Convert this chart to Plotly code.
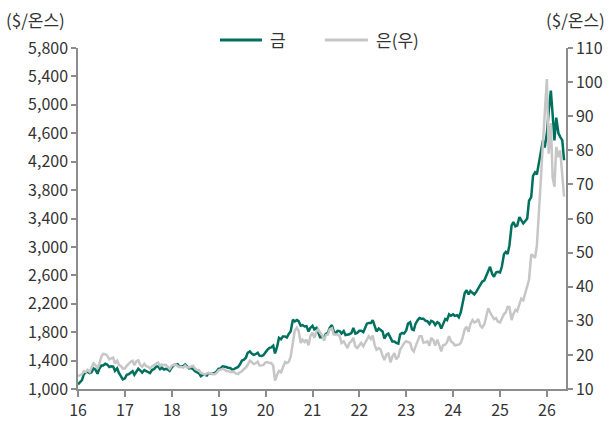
import pandas as pd
import plotly.graph_objects as go

# Semi-monthly observation dates (1st and 15th), Jan 2016 - May 2026
dates = pd.date_range("2016-01-01", "2026-05-15", freq="SMS")

gold_2016 = [1065, 1090, 1125, 1205, 1235, 1245, 1225, 1235, 1290, 1275, 1215, 1285,
             1330, 1330, 1355, 1345, 1310, 1320, 1315, 1255, 1290, 1225, 1170, 1135]
gold_2017 = [1150, 1200, 1210, 1235, 1250, 1200, 1250, 1285, 1260, 1230, 1265, 1255,
             1240, 1225, 1270, 1280, 1315, 1320, 1280, 1300, 1275, 1285, 1275, 1255]
gold_2018 = [1305, 1335, 1345, 1350, 1315, 1320, 1325, 1345, 1310, 1290, 1295, 1280,
             1250, 1235, 1220, 1180, 1200, 1200, 1190, 1225, 1215, 1215, 1225, 1245]
gold_2019 = [1285, 1290, 1320, 1320, 1310, 1300, 1295, 1275, 1280, 1295, 1310, 1345,
             1400, 1410, 1440, 1510, 1530, 1500, 1480, 1490, 1510, 1470, 1465, 1475]
gold_2020 = [1520, 1550, 1580, 1585, 1610, 1500, 1600, 1720, 1700, 1740, 1740, 1725,
             1780, 1810, 1975, 1950, 1970, 1955, 1890, 1900, 1880, 1885, 1810, 1860]
gold_2021 = [1890, 1840, 1860, 1790, 1730, 1730, 1730, 1775, 1790, 1860, 1900, 1810,
             1780, 1820, 1815, 1780, 1815, 1760, 1760, 1770, 1790, 1860, 1780, 1790]
gold_2022 = [1820, 1820, 1800, 1860, 1920, 1930, 1930, 1970, 1870, 1810, 1850, 1830,
             1810, 1710, 1765, 1780, 1710, 1670, 1670, 1650, 1640, 1770, 1790, 1780]
gold_2023 = [1825, 1920, 1940, 1840, 1830, 1920, 1970, 2000, 1990, 1990, 1960, 1955,
             1915, 1960, 1945, 1900, 1940, 1925, 1850, 1920, 1985, 1970, 2050, 2030]
gold_2024 = [2050, 2030, 2040, 2010, 2080, 2200, 2350, 2390, 2330, 2380, 2350, 2330,
             2370, 2420, 2480, 2510, 2530, 2600, 2680, 2720, 2620, 2580, 2640, 2650]
gold_2025 = [2640, 2720, 2900, 2930, 2900, 3020, 3300, 3350, 3290, 3300, 3420, 3380,
             3330, 3360, 3400, 3650, 3700, 4000, 4050, 4020, 4200, 4380, 4500, 4400]
gold_2026 = [4600, 4900, 5200, 4860, 4500, 4820, 4600, 4550, 4500, 4220]

silver_2016 = [13.8, 14.1, 14.3, 15.2, 15.0, 15.6, 15.0, 16.2, 17.5, 17.0, 16.0, 17.4,
               19.5, 20.3, 20.2, 19.8, 18.7, 19.0, 19.2, 17.5, 18.3, 17.1, 16.7, 16.0]
silver_2017 = [16.0, 16.8, 17.5, 18.0, 18.3, 17.0, 18.2, 18.4, 17.0, 16.5, 17.4, 16.7,
               16.5, 16.0, 16.7, 17.0, 17.6, 17.8, 16.8, 17.2, 17.0, 17.1, 16.5, 15.9]
silver_2018 = [16.9, 17.1, 17.2, 16.7, 16.4, 16.5, 16.3, 16.9, 16.3, 16.3, 16.5, 16.8,
               16.0, 15.6, 15.5, 14.7, 14.5, 14.2, 14.6, 14.7, 14.6, 14.3, 14.3, 14.7]
silver_2019 = [15.5, 15.7, 15.9, 15.7, 15.3, 15.3, 15.0, 15.0, 15.0, 14.5, 14.4, 14.9,
               15.2, 15.8, 16.3, 17.1, 18.3, 17.9, 17.3, 17.5, 18.0, 16.9, 16.9, 17.0]
silver_2020 = [17.8, 17.9, 17.6, 17.6, 16.8, 12.5, 14.2, 15.3, 14.9, 16.2, 17.9, 17.6,
               18.0, 19.5, 24.0, 27.0, 28.0, 27.0, 23.5, 24.5, 23.8, 24.5, 22.8, 25.5]
silver_2021 = [26.5, 25.0, 27.0, 27.5, 26.5, 26.0, 24.2, 25.8, 26.0, 27.5, 27.8, 26.0,
               26.0, 26.0, 25.5, 23.5, 24.0, 23.0, 22.0, 23.5, 24.0, 25.0, 22.5, 22.0]
silver_2022 = [23.0, 23.5, 22.5, 23.5, 24.5, 25.5, 24.7, 25.7, 22.8, 21.5, 22.0, 21.6,
               19.7, 18.5, 20.2, 20.4, 17.8, 19.5, 20.5, 18.7, 19.5, 21.6, 22.5, 23.4]
silver_2023 = [24.0, 23.8, 23.5, 21.6, 21.0, 22.5, 24.0, 25.5, 25.5, 23.6, 23.7, 24.0,
               22.7, 25.0, 24.3, 22.7, 24.5, 23.0, 21.0, 22.8, 23.0, 23.7, 25.5, 24.0]
silver_2024 = [23.5, 22.8, 22.8, 23.0, 23.5, 25.0, 27.5, 28.3, 26.8, 29.0, 30.2, 29.5,
               29.8, 30.5, 28.5, 28.0, 29.0, 31.0, 33.7, 32.5, 31.2, 30.5, 30.8, 29.8]
silver_2025 = [29.5, 30.5, 32.0, 32.5, 34.1, 34.0, 30.2, 32.0, 33.2, 32.8, 34.5, 36.5,
               36.0, 38.0, 40.0, 42.0, 49.5, 49.0, 48.5, 52.0, 61.6, 71.3, 82.0, 90.0]
silver_2026 = [100.9, 79.0, 88.0, 72.0, 69.3, 81.0, 78.0, 80.0, 73.0, 66.4]

gold = (gold_2016 + gold_2017 + gold_2018 + gold_2019 + gold_2020 + gold_2021 +
        gold_2022 + gold_2023 + gold_2024 + gold_2025 + gold_2026)
silver = (silver_2016 + silver_2017 + silver_2018 + silver_2019 + silver_2020 +
          silver_2021 + silver_2022 + silver_2023 + silver_2024 + silver_2025 + silver_2026)

gold_name = "금"
silver_name = "은(우)"
unit_label = "($/온스)"

FONT = "Noto Sans CJK KR"
TXT = "#333333"
AX = "#8c8c8c"
GOLD_C = "#00705e"
SILVER_C = "#c6c6c6"

fig = go.Figure()
fig.add_trace(go.Scatter(x=dates, y=silver, name=silver_name, yaxis="y2",
                         mode="lines", line=dict(color=SILVER_C, width=2.5),
                         showlegend=False))
fig.add_trace(go.Scatter(x=dates, y=gold, name=gold_name, yaxis="y",
                         mode="lines", line=dict(color=GOLD_C, width=2.5),
                         showlegend=False))

# Legend drawn as paper-anchored key lines + labels (longer key lines like the source)
LEG_Y = 1.0235
legend_items = [(gold_name, GOLD_C, 0.291, 0.377), (silver_name, SILVER_C, 0.506, 0.594)]
shapes = []
annotations = []
for name, color, x0, x1 in legend_items:
    shapes.append(dict(type="line", xref="paper", yref="paper", x0=x0, x1=x1,
                       y0=LEG_Y, y1=LEG_Y, line=dict(color=color, width=3)))
    annotations.append(dict(text=name, xref="paper", yref="paper", x=x1 + 0.012, y=LEG_Y,
                            xanchor="left", yanchor="middle", showarrow=False,
                            font=dict(size=17, color=TXT)))

annotations += [
    dict(text=unit_label, xref="paper", yref="paper", x=-0.152, y=1.084,
         xanchor="left", yanchor="middle", showarrow=False,
         font=dict(size=17, color=TXT)),
    dict(text=unit_label, xref="paper", yref="paper", x=1.083, y=1.084,
         xanchor="right", yanchor="middle", showarrow=False,
         font=dict(size=17, color=TXT)),
]

fig.update_layout(
    width=612, height=423, autosize=False,
    margin=dict(l=78, r=46, t=48, b=34, autoexpand=False),
    paper_bgcolor="white", plot_bgcolor="white",
    font=dict(family=FONT, size=14, color=TXT),
    showlegend=False,
    xaxis=dict(type="date", range=["2016-01-01", "2026-05-30"],
               tickformat="%y", dtick="M12", tick0="2016-01-01",
               showgrid=False, zeroline=False, showline=True, linecolor=AX, linewidth=1.5,
               ticks="outside", ticklen=6, tickcolor=AX, tickwidth=1.5,
               tickfont=dict(size=16, color=TXT), automargin=False),
    yaxis=dict(range=[1000, 5800], tickvals=list(range(1000, 5801, 400)),
               tickformat=",", showgrid=False, zeroline=False, showline=True,
               linecolor=AX, linewidth=1.5, ticks="outside", ticklen=5,
               tickcolor=AX, tickwidth=1.5, tickfont=dict(size=16, color=TXT),
               automargin=False),
    yaxis2=dict(range=[10, 110], tickvals=list(range(10, 111, 10)), overlaying="y",
                side="right", showgrid=False, zeroline=False, showline=True,
                linecolor=AX, linewidth=1.5, ticks="outside", ticklen=5,
                tickcolor=AX, tickwidth=1.5, tickfont=dict(size=16, color=TXT),
                automargin=False),
    shapes=shapes,
    annotations=annotations,
)

fig.write_html("out.html", config={"displayModeBar": False},
               post_script="document.body.style.margin='0';document.body.style.overflow='hidden';")
